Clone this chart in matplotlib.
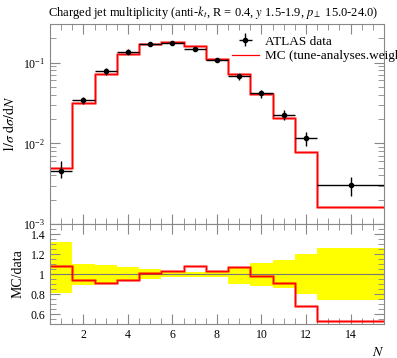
import numpy as np
import matplotlib.pyplot as plt
from matplotlib.ticker import MultipleLocator, LogLocator, NullFormatter

plt.rcParams['font.family'] = ['Liberation Serif', 'DejaVu Serif']
plt.rcParams['mathtext.fontset'] = 'stix'

# bin edges in N
edges = np.array([0.5, 1.5, 2.5, 3.5, 4.5, 5.5, 6.5, 7.5, 8.5, 9.5, 10.5, 11.5, 12.5, 15.5])
centers = np.array([1, 2, 3, 4, 5, 6, 7, 8, 9, 10, 11, 12, 14])

# ATLAS data and MC prediction (1/sigma dsigma/dN)
data = np.array([0.0046, 0.0341, 0.0785, 0.1357, 0.168, 0.176, 0.148, 0.107, 0.068,
                 0.0417, 0.0224, 0.01155, 0.00304])
mc = np.array([0.00495, 0.0319, 0.0714, 0.128, 0.170, 0.181, 0.160, 0.110, 0.0725,
               0.0410, 0.0205, 0.00785, 0.00161])

# relative data uncertainty (ratio band)
band_hi = np.array([1.317, 1.10, 1.09, 1.07, 1.047, 1.03, 1.025, 1.03, 1.067, 1.11, 1.14, 1.197, 1.26])
band_lo = np.array([0.813, 0.89, 0.905, 0.933, 0.953, 0.97, 0.975, 0.97, 0.90, 0.88, 0.863, 0.80, 0.74])

ratio = mc / data

fig = plt.figure(figsize=(3.97, 3.58), dpi=100)
ax = fig.add_axes([0.126, 0.374, 0.841, 0.559])
rax = fig.add_axes([0.126, 0.095, 0.841, 0.279], sharex=ax)

grey = '#888888'

def step(vals):
    return np.append(vals, vals[-1])

# main panel
ax.step(edges, step(mc), where='post', color='red', lw=2.2, alpha=0.45)
ax.step(edges, step(mc), where='post', color='red', lw=0.9, label='MC (tune-analyses.weight')
xerr = np.vstack([centers - edges[:-1], edges[1:] - centers])
yerr = np.vstack([data - data * band_lo, data * band_hi - data])
ax.errorbar(centers, data, xerr=xerr, yerr=yerr, fmt='o', color='black', ms=3,
            elinewidth=1, capsize=0, label='ATLAS data')
ax.set_yscale('log')
ax.set_ylim(1e-3, 0.3)
ax.set_xlim(0.5, 15.5)
ax.set_ylabel(r'$1/\sigma\;\mathrm{d}\sigma/\mathrm{d}N$', fontsize=10)
ax.yaxis.set_minor_locator(LogLocator(base=10, subs=np.arange(2, 10)))
ax.yaxis.set_minor_formatter(NullFormatter())
ax.tick_params(labelbottom=False)

handles, labels = ax.get_legend_handles_labels()
ax.legend(handles[::-1], labels[::-1], loc='upper left', bbox_to_anchor=(0.53, 0.97),
          frameon=False, fontsize=9.5, handlelength=2.0, handletextpad=0.5,
          labelspacing=0.2, borderaxespad=0)

ax.set_title(r'Charged jet multiplicity (anti-$k_t$, R = 0.4, $y$ 1.5-1.9, $p_\perp$ 15.0-24.0)',
             fontsize=9, loc='left', x=-0.005, pad=6)

# ratio panel
for lo, hi, a, b in zip(band_lo, band_hi, edges[:-1], edges[1:]):
    rax.fill_between([a, b], [lo, lo], [hi, hi], color='yellow', lw=0)
rax.axhline(1.0, color='#777777', lw=0.8)
rax.step(edges, step(ratio), where='post', color='red', lw=2.2, alpha=0.45)
rax.step(edges, step(ratio), where='post', color='red', lw=0.9)
rax.set_ylim(0.5, 1.5)
rax.set_ylabel('MC/data', fontsize=10)
rax.set_yticks([0.6, 0.8, 1.0, 1.2, 1.4])
rax.set_yticklabels(['0.6', '0.8', '1', '1.2', '1.4'])
rax.yaxis.set_minor_locator(MultipleLocator(0.05))
rax.set_xticks([2, 4, 6, 8, 10, 12, 14])
rax.xaxis.set_minor_locator(MultipleLocator(0.5))
rax.set_xlabel(r'$N$', fontsize=10, loc='right')

for a in (ax, rax):
    for s in a.spines.values():
        s.set_color(grey)
    a.tick_params(which='both', direction='in', top=True, right=True, color=grey, labelsize=8.5)
    a.tick_params(which='major', length=7)
    a.tick_params(which='minor', length=4)

fig.savefig('out.png', dpi=100)
